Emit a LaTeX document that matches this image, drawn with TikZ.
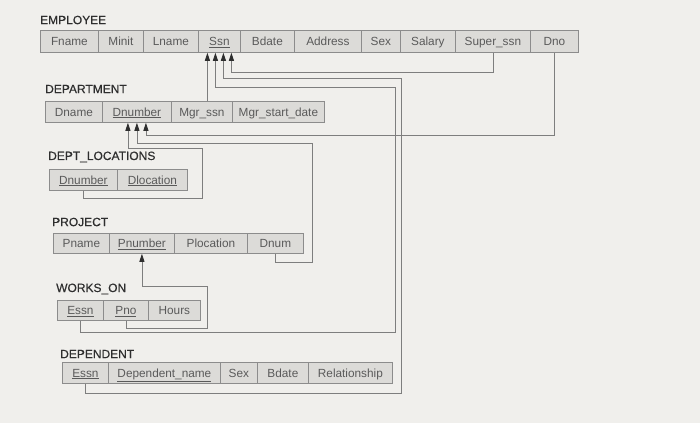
\documentclass[tikz,border=0pt]{standalone}
\usepackage{fontspec}
\setmainfont{Liberation Sans}
\newfontfamily\labfont{Liberation Sans}[FakeBold=0.4]
\usetikzlibrary{arrows.meta}
\definecolor{bg}{HTML}{F0EFEC}
\definecolor{cellfill}{HTML}{DCDBD8}
\definecolor{cellline}{HTML}{8C8C8C}
\definecolor{celltext}{HTML}{5A5A5A}
\definecolor{labtext}{HTML}{2E2E2E}
\definecolor{linecol}{HTML}{7E7E7E}
\definecolor{tipcol}{HTML}{2E2E2E}
\newcommand\mkcell[6]{%
  \node[cell, minimum width={(#3-#2)*1pt}, minimum height={(#5-#4)*1pt}, anchor=north west] (#1) at (#2,#4) {#6};}
\begin{document}
\begin{tikzpicture}[x=1pt,y=-1pt,
  cell/.style={draw=cellline, fill=cellfill, line width=0.8pt, inner sep=0pt, text=celltext, text height=9.6pt, text depth=1.4pt, font=\fontsize{11.8}{13}\selectfont},
  tlabel/.style={anchor=west, inner sep=0pt, text=labtext, font=\labfont\fontsize{12}{14}\selectfont},
  fk/.style={draw=linecol, line width=0.8pt, -{Triangle[length=8pt,width=5pt,color=tipcol]}}]
\useasboundingbox (0,0) rectangle (700,423);
\fill[bg] (0,0) rectangle (700,423);

% EMPLOYEE
\node[tlabel] (lemp) at (40,20) {EMPLOYEE};
\mkcell{e_fname}{40}{98}{30}{52}{Fname}
\mkcell{e_minit}{98}{143}{30}{52}{Minit}
\mkcell{e_lname}{143}{198}{30}{52}{Lname}
\mkcell{e_ssn}{198}{240}{30}{52}{\underline{Ssn}}
\mkcell{e_bdate}{240}{294}{30}{52}{Bdate}
\mkcell{e_addr}{294}{361}{30}{52}{Address}
\mkcell{e_sex}{361}{400}{30}{52}{Sex}
\mkcell{e_salary}{400}{455}{30}{52}{Salary}
\mkcell{e_super}{455}{530}{30}{52}{Super\_ssn}
\mkcell{e_dno}{530}{578}{30}{52}{Dno}

% DEPARTMENT
\node[tlabel] (ldep) at (45,89) {DEPARTMENT};
\mkcell{d_dname}{45}{102}{101}{122}{Dname}
\mkcell{d_dnumber}{102}{171}{101}{122}{\underline{Dnumber}}
\mkcell{d_mgrssn}{171}{232}{101}{122}{Mgr\_ssn}
\mkcell{d_mgrdate}{232}{324}{101}{122}{Mgr\_start\_date}

% DEPT_LOCATIONS
\node[tlabel] (lloc) at (48,157) {DEPT\_LOCATIONS};
\mkcell{l_dnumber}{49}{117}{169}{190}{\underline{Dnumber}}
\mkcell{l_dloc}{117}{187}{169}{190}{\underline{Dlocation}}

% PROJECT
\node[tlabel] (lproj) at (52,222) {PROJECT};
\mkcell{p_pname}{53}{109}{233}{253}{Pname}
\mkcell{p_pnumber}{109}{174}{233}{253}{\underline{Pnumber}}
\mkcell{p_ploc}{174}{247}{233}{253}{Plocation}
\mkcell{p_dnum}{247}{303}{233}{253}{Dnum}

% WORKS_ON
\node[tlabel] (lworks) at (56,289) {WORKS\_ON};
\mkcell{w_essn}{57}{103}{300}{320}{\underline{Essn}}
\mkcell{w_pno}{103}{148}{300}{320}{\underline{Pno}}
\mkcell{w_hours}{148}{200}{300}{320}{Hours}

% DEPENDENT
\node[tlabel] (ldpd) at (60,354) {DEPENDENT};
\mkcell{dp_essn}{62}{108}{362}{383}{\underline{Essn}}
\mkcell{dp_name}{108}{220}{362}{383}{\underline{Dependent\_name}}
\mkcell{dp_sex}{220}{257}{362}{383}{Sex}
\mkcell{dp_bdate}{257}{308}{362}{383}{Bdate}
\mkcell{dp_rel}{308}{392}{362}{383}{Relationship}

% foreign keys to Ssn
\coordinate (s1) at ([xshift=-12pt]e_ssn.south);
\coordinate (s2) at ([xshift=-4pt]e_ssn.south);
\coordinate (s3) at ([xshift=4pt]e_ssn.south);
\coordinate (s4) at ([xshift=12pt]e_ssn.south);
\draw[fk] (s1 |- d_mgrssn.north) -- (s1);
\draw[fk] (w_essn.south) -- ++(0,12) -| (395,87) -| (s2);
\draw[fk] (dp_essn.south) -- ++(0,10) -| (401,78) -| (s3);
\draw[fk] (e_super.south) -- ++(0,20) -| (s4);

% foreign keys to Dnumber
\coordinate (n1) at ([xshift=-9pt]d_dnumber.south);
\coordinate (n2) at (d_dnumber.south);
\coordinate (n3) at ([xshift=9pt]d_dnumber.south);
\draw[fk] (l_dnumber.south) -- ++(0,8) -| (202,148) -| (n1);
\draw[fk] (p_dnum.south) -- ++(0,9) -| (312,143) -| (n2);
\draw[fk] (e_dno.south) -- ++(0,83) -| (n3);

% foreign key to Pnumber
\draw[fk] (w_pno.south) -- ++(0,8) -| (207,286) -| (p_pnumber.south);
\end{tikzpicture}
\end{document}
